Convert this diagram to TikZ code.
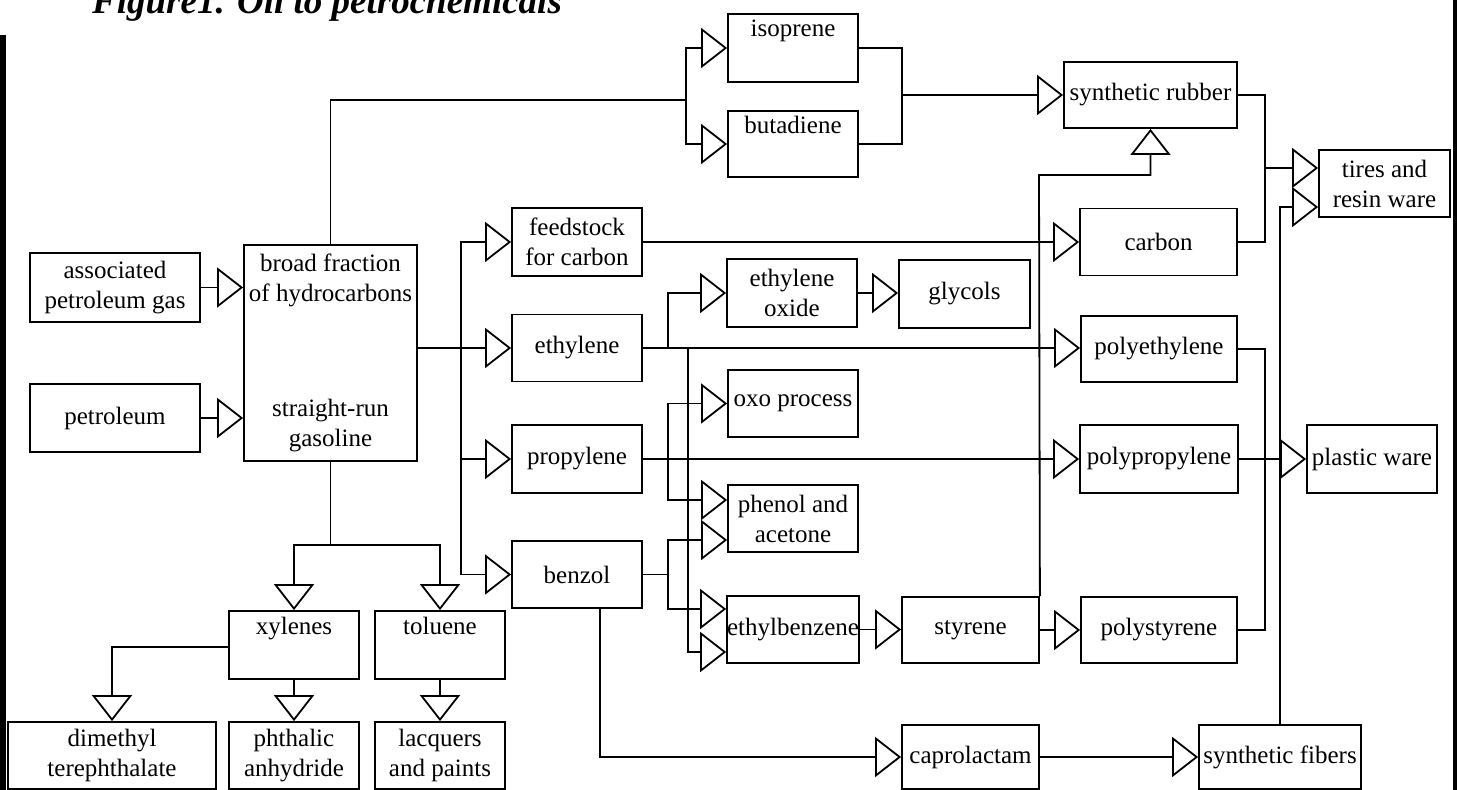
\documentclass[tikz,border=0pt]{standalone}
\usepackage{fontspec}
\setmainfont{Liberation Serif}
\usetikzlibrary{arrows.meta}
\begin{document}
\begin{tikzpicture}[x=1pt,y=-1pt,
  box/.style={draw, line width=1.8pt, inner sep=0pt, align=center,
    font=\fontsize{25}{30}\selectfont},
  conn/.style={line width=1.8pt},
  arr/.style={line width=1.8pt, -{Triangle[open, length=26pt, width=40pt]}},
  titlefont/.style={font=\fontsize{37}{40}\selectfont\bfseries\itshape, inner sep=0pt}]
\useasboundingbox (0,0) rectangle (1457,790);
\clip (0,0) rectangle (1457,790);
\fill[white] (0,0) rectangle (1457,790);
\fill[black] (0,35) rectangle (6,790);
\fill[black] (1453,0) rectangle (1457,790);
\node[titlefont, anchor=base west] (title) at (92,13) {Figure1. Oil to petrochemicals};

% boxes
\node[box, minimum width=170pt, minimum height=69pt] (apg) at (115,287.5) {associated\\petroleum gas};
\node[box, minimum width=170pt, minimum height=68pt] (petroleum) at (115,418) {petroleum};
\node[box, minimum width=173pt, minimum height=216pt] (broad) at (330.5,353) {broad fraction\\of hydrocarbons\\[85pt]straight-run\\gasoline};
\node[box, minimum width=130pt, minimum height=68pt] (isoprene) at (793,48) {isoprene\\\strut};
\node[box, minimum width=130pt, minimum height=66pt] (butadiene) at (793,144) {butadiene\\\strut};
\node[box, minimum width=173pt, minimum height=66pt] (synrubber) at (1150.5,95) {synthetic rubber};
\node[box, minimum width=131pt, minimum height=67pt] (tires) at (1384.5,183.5) {tires and\\resin ware};
\node[box, minimum width=130pt, minimum height=68pt] (feedstock) at (577,242) {feedstock\\for carbon};
\node[box, minimum width=157pt, minimum height=67pt] (carbon) at (1158.5,242) {carbon};
\node[box, minimum width=130pt, minimum height=67pt] (ethylene) at (577,348) {ethylene};
\node[box, minimum width=130pt, minimum height=68pt] (ethoxide) at (792,293) {ethylene\\oxide};
\node[box, minimum width=131pt, minimum height=68pt] (glycols) at (964.5,294) {glycols};
\node[box, minimum width=156pt, minimum height=66pt] (polyethylene) at (1159,349) {polyethylene};
\node[box, minimum width=130pt, minimum height=67pt] (oxo) at (793,403.5) {oxo process};
\node[box, minimum width=130pt, minimum height=68pt] (propylene) at (577,459) {propylene};
\node[box, minimum width=158pt, minimum height=68pt] (polypropylene) at (1159,459) {polypropylene};
\node[box, minimum width=130pt, minimum height=68pt] (plastic) at (1372,459) {plastic ware};
\node[box, minimum width=130pt, minimum height=67pt] (phenol) at (793,518.5) {phenol and\\acetone};
\node[box, minimum width=130pt, minimum height=67pt] (benzol) at (577,574.5) {benzol};
\node[box, minimum width=130pt, minimum height=67pt] (ethylbenzene) at (793,629.5) {ethylbenzene};
\node[box, minimum width=137pt, minimum height=66pt] (styrene) at (970.5,630) {styrene};
\node[box, minimum width=156pt, minimum height=66pt] (polystyrene) at (1159,630) {polystyrene};
\node[box, minimum width=130pt, minimum height=68pt] (xylenes) at (294,645) {xylenes\\\strut};
\node[box, minimum width=130pt, minimum height=68pt] (toluene) at (440,645) {toluene\\\strut};
\node[box, minimum width=208pt, minimum height=67pt] (dmt) at (112,755.5) {dimethyl\\terephthalate};
\node[box, minimum width=130pt, minimum height=67pt] (phthalic) at (294,755.5) {phthalic\\anhydride};
\node[box, minimum width=130pt, minimum height=67pt] (lacquers) at (440,755.5) {lacquers\\and paints};
\node[box, minimum width=137pt, minimum height=64pt] (caprolactam) at (970.5,757) {caprolactam};
\node[box, minimum width=162pt, minimum height=64pt] (synfibers) at (1280,757) {synthetic fibers};

% named points on borders and junctions
\coordinate (tiresA) at ([yshift=15.5pt]tires.west);
\coordinate (tiresB) at ([yshift=-23.5pt]tires.west);
\coordinate (phA) at ([yshift=18.5pt]phenol.west);
\coordinate (phB) at ([yshift=-21.5pt]phenol.west);
\coordinate (ebA) at ([yshift=20.5pt]ethylbenzene.west);
\coordinate (ebB) at ([yshift=-22.5pt]ethylbenzene.west);
\coordinate (bzs) at ([xshift=23pt]benzol.south);
\coordinate (xyw) at ([yshift=-2pt]xylenes.west);
\coordinate (tj) at (686,100);
\coordinate (rj) at (902,95);
\coordinate (tj2) at (1265,168);
\coordinate (bj) at (461,348);
\coordinate (ej1) at (668,348);
\coordinate (ej2) at (688,348);
\coordinate (pj) at (668,459);
\coordinate (bzj) at (668,574.5);
\coordinate (sj) at (1039,175);
\coordinate (plj) at (1265,459);
\coordinate (gj) at (330.5,545);

% connectors
\draw[arr] (apg.east) -- (apg.east -| broad.west);
\draw[arr] (petroleum.east) -- (petroleum.east -| broad.west);
\draw[conn] (broad.north) |- (tj);
\draw[arr] (tj) |- (isoprene.west);
\draw[arr] (tj) |- (butadiene.west);
\draw[conn] (isoprene.east) -| (rj);
\draw[conn] (butadiene.east) -| (rj);
\draw[arr] (rj) -- (synrubber.west);
\draw[conn] (synrubber.east) -| (tj2);
\draw[conn] (carbon.east) -| (tj2);
\draw[arr] (tj2) -- (tiresA);
\draw[arr] (synfibers.north) |- (tiresB);

\draw[conn] (broad.east |- bj) -- (bj);
\draw[arr] (bj) |- (feedstock.west);
\draw[arr] (bj) -- (ethylene.west);
\draw[arr] (bj) |- (propylene.west);
\draw[arr] (bj) |- (benzol.west);

\draw[arr] (feedstock.east) -- (feedstock.east -| carbon.west);
\draw[arr] (ethylene.east) -- (ethylene.east -| polyethylene.west);
\draw[arr] (ej1) |- (ethoxide.west);
\draw[arr] (ethoxide.east) -- (ethoxide.east -| glycols.west);
\draw[arr] (ej2) |- (ebB);
\draw[arr] (propylene.east) -- (propylene.east -| polypropylene.west);
\draw[arr] (pj) |- (oxo.west);
\draw[arr] (pj) |- (phA);
\draw[arr] (polypropylene.east) -- (polypropylene.east -| plastic.west);
\draw[conn] (benzol.east) -- (bzj);
\draw[arr] (bzj) |- (phB);
\draw[arr] (bzj) |- (ebA);
\draw[arr] (ethylbenzene.east) -- (ethylbenzene.east -| styrene.west);
\draw[arr] (styrene.east) -- (styrene.east -| polystyrene.west);
\draw[arr] (styrene.north east) -- (sj) -| (synrubber.south);
\draw[conn] (polyethylene.east) -| (plj);
\draw[conn] (polystyrene.east) -| (plj);
\draw[arr] (bzs) |- (caprolactam.west);
\draw[arr] (caprolactam.east) -- (caprolactam.east -| synfibers.west);

\draw[conn] (broad.south) -- (gj);
\draw[arr] (gj) -| (xylenes.north);
\draw[arr] (gj) -| (toluene.north);
\draw[arr] (xyw) -| (dmt.north);
\draw[arr] (xylenes.south) -- (phthalic.north);
\draw[arr] (toluene.south) -- (lacquers.north);
\end{tikzpicture}
\end{document}
